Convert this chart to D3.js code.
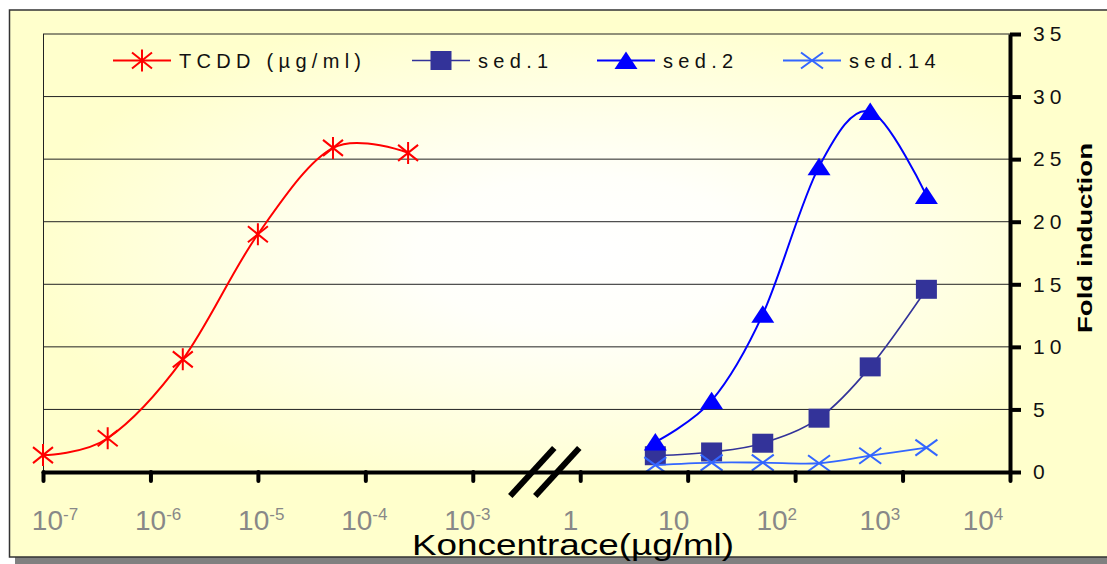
<!DOCTYPE html>
<html>
<head>
<meta charset="utf-8">
<script src="https://cdn.jsdelivr.net/npm/d3@7"></script>
<style>
  body { margin: 0; background: #fff; }
  text { font-family: "Liberation Sans", Arial, sans-serif; }
</style>
</head>
<body>
<script>
// concentrations (ug/ml) and fold induction
const tcddConc = [1e-7, 4e-7, 2e-6, 1e-5, 5e-5, 2.5e-4];
const tcddFold = [1.35, 2.7, 9.0, 19.0, 25.9, 25.5];
const sedConc = [5, 16.7, 50, 167, 500, 1667];
const sed1Fold = [1.3, 1.6, 2.3, 4.3, 8.4, 14.6];
const sed2Fold = [2.4, 5.7, 12.6, 24.4, 28.8, 22.1];
const sed14Fold = [0.55, 0.75, 0.75, 0.7, 1.3, 1.95];

// x tick labels (base + superscript)
const tickBase = ["10", "10", "10", "10", "10", "1", "10", "10", "10", "10"];
const tickExp = ["-7", "-6", "-5", "-4", "-3", "", "", "2", "3", "4"];
const yTicks = [0, 5, 10, 15, 20, 25, 30, 35];

const width = 1107, height = 564;
const svg = d3.select("body").append("svg")
    .attr("width", width)
    .attr("height", height);

// plot frame
const pLeft = 43, pRight = 1010, pTop = 34, pBottom = 472;

// one slot per tick label, the axis is broken between 10^-3 and 1
const idx = d3.scaleLinear().domain([0, 9]).range([pLeft, pRight]);
const xLeft = d3.scaleLog().domain([1e-7, 1e-3]).range([idx(0), idx(4)]);
const xRight = d3.scaleLog().domain([1, 1e4]).range([idx(5), idx(9)]);
// tick labels were placed as their own text row, slightly tighter
const labelX = d3.scaleLinear().domain([0, 9]).range([55, 983]);
const y = d3.scaleLinear().domain([0, 35]).range([pBottom, pTop]);

const defs = svg.append("defs");
const grad = defs.append("radialGradient")
    .attr("id", "bg")
    .attr("cx", 0.56).attr("cy", 0.5).attr("r", 0.58);
grad.append("stop").attr("offset", 0).attr("stop-color", "#ffffff");
grad.append("stop").attr("offset", 0.3).attr("stop-color", "#fffffa");
grad.append("stop").attr("offset", 1).attr("stop-color", "#ffffcc");

// outer chart area with shadow
svg.append("rect")
    .attr("x", 15).attr("y", 16)
    .attr("width", 1120).attr("height", 548)
    .attr("fill", "#808080");
svg.append("rect")
    .attr("x", 9.5).attr("y", 10)
    .attr("width", 1120).attr("height", 547)
    .attr("fill", "#ffffcc")
    .attr("stroke", "#333")
    .attr("stroke-width", 1.5);

// plot area
svg.append("rect")
    .attr("x", pLeft).attr("y", pTop)
    .attr("width", pRight - pLeft).attr("height", pBottom - pTop)
    .attr("fill", "url(#bg)");

// gridlines
svg.append("g").selectAll("line")
    .data(yTicks.slice(1))
    .enter().append("line")
    .attr("x1", pLeft).attr("x2", pRight)
    .attr("y1", d => y(d)).attr("y2", d => y(d))
    .attr("stroke", "#222")
    .attr("stroke-width", 1);

svg.append("line")
    .attr("x1", pLeft + 0.5).attr("x2", pLeft + 0.5)
    .attr("y1", pTop).attr("y2", pBottom)
    .attr("stroke", "#222");

// series
const series = [
    {name: "TCDD (\u00b5g/ml)", conc: tcddConc, fold: tcddFold, x: xLeft, color: "#ff0000", lw: 2, mark: "star"},
    {name: "sed.1", conc: sedConc, fold: sed1Fold, x: xRight, color: "#333399", lw: 1.6, mark: "square"},
    {name: "sed.2", conc: sedConc, fold: sed2Fold, x: xRight, color: "#0000ff", lw: 2, mark: "triangle"},
    {name: "sed.14", conc: sedConc, fold: sed14Fold, x: xRight, color: "#3366ff", lw: 1.8, mark: "x"}
];

const line = d3.line().curve(d3.curveCardinal.tension(0));

function drawMarker(g, kind, color) {
    if (kind === "star") {
        g.append("path")
            .attr("d", "M-10,-8L10,8M-10,8L10,-8M0,-11V11")
            .attr("stroke", color).attr("stroke-width", 2).attr("fill", "none");
    } else if (kind === "square") {
        g.append("rect")
            .attr("x", -10.5).attr("y", -9.5)
            .attr("width", 21).attr("height", 19)
            .attr("fill", color);
    } else if (kind === "triangle") {
        g.append("path")
            .attr("d", "M0,-9L11.5,8.5L-11.5,8.5Z")
            .attr("fill", color);
    } else {
        g.append("path")
            .attr("d", "M-11,-8L11,8M-11,8L11,-8")
            .attr("stroke", color).attr("stroke-width", 2).attr("fill", "none");
    }
}

series.forEach(s => {
    const pts = s.conc.map((c, i) => [s.x(c), y(s.fold[i])]);
    svg.append("path")
        .attr("d", line(pts))
        .attr("fill", "none")
        .attr("stroke", s.color)
        .attr("stroke-width", s.lw);
    pts.forEach(p => {
        const g = svg.append("g").attr("transform", `translate(${p[0]},${p[1]})`);
        drawMarker(g, s.mark, s.color);
    });
});

// legend
const legendX = [113, 412, 597, 783];
series.forEach((s, i) => {
    const g = svg.append("g").attr("transform", `translate(${legendX[i]},60.5)`);
    g.append("line")
        .attr("x1", 0).attr("x2", 58)
        .attr("stroke", s.color).attr("stroke-width", s.lw);
    const m = g.append("g").attr("transform", "translate(29,0)");
    drawMarker(m, s.mark, s.color);
    g.append("text")
        .attr("x", 66).attr("y", 7.5)
        .attr("font-size", 20)
        .attr("letter-spacing", "5.3px")
        .attr("fill", "#111")
        .text(s.name);
});

// bottom axis
const xAxis = d3.axisBottom(idx)
    .tickValues(d3.range(10))
    .tickSize(9)
    .tickSizeOuter(0)
    .tickFormat("");
const gx = svg.append("g")
    .attr("transform", `translate(0,${pBottom})`)
    .call(xAxis);
gx.select(".domain").attr("stroke", "#000").attr("stroke-width", 4).attr("stroke-linecap", "round");
gx.selectAll(".tick line").attr("stroke", "#000").attr("stroke-width", 4).attr("stroke-linecap", "round");

// axis break marks
const brk = idx(4.67);
svg.append("g").selectAll("line")
    .data([-12.5, 12.5])
    .enter().append("line")
    .attr("x1", d => brk + d - 22).attr("y1", pBottom + 24)
    .attr("x2", d => brk + d + 22).attr("y2", pBottom - 24)
    .attr("stroke", "#000")
    .attr("stroke-width", 6);

// x tick labels
const lab = svg.append("g").selectAll("text")
    .data(tickBase)
    .enter().append("text")
    .attr("x", (d, i) => labelX(i))
    .attr("y", 530)
    .attr("text-anchor", "middle")
    .attr("font-size", 28)
    .attr("fill", "#888888");
lab.append("tspan").text(d => d);
lab.append("tspan")
    .attr("dy", -10)
    .attr("font-size", 17)
    .text((d, i) => tickExp[i]);

// right axis
const yAxis = d3.axisRight(y)
    .tickValues(yTicks)
    .tickSize(11)
    .tickSizeOuter(0)
    .tickPadding(12);
const gy = svg.append("g")
    .attr("transform", `translate(${pRight},0)`)
    .call(yAxis);
gy.select(".domain").attr("stroke", "#000").attr("stroke-width", 4);
gy.selectAll(".tick line").attr("stroke", "#000").attr("stroke-width", 4);
gy.selectAll(".tick text")
    .attr("font-size", 21)
    .attr("letter-spacing", "5px")
    .attr("fill", "#111")
    .style("font-family", "'Liberation Sans', Arial, sans-serif");

// axis titles
svg.append("text")
    .attr("transform", "translate(1092,238) rotate(-90)")
    .attr("text-anchor", "middle")
    .attr("font-size", 21)
    .attr("font-weight", "bold")
    .attr("textLength", 190)
    .attr("lengthAdjust", "spacingAndGlyphs")
    .attr("fill", "#000")
    .text("Fold induction");

svg.append("text")
    .attr("x", 412).attr("y", 555)
    .attr("font-size", 30)
    .attr("textLength", 322)
    .attr("lengthAdjust", "spacingAndGlyphs")
    .attr("fill", "#000")
    .text("Koncentrace(\u00b5g/ml)");
</script>
</body>
</html>
